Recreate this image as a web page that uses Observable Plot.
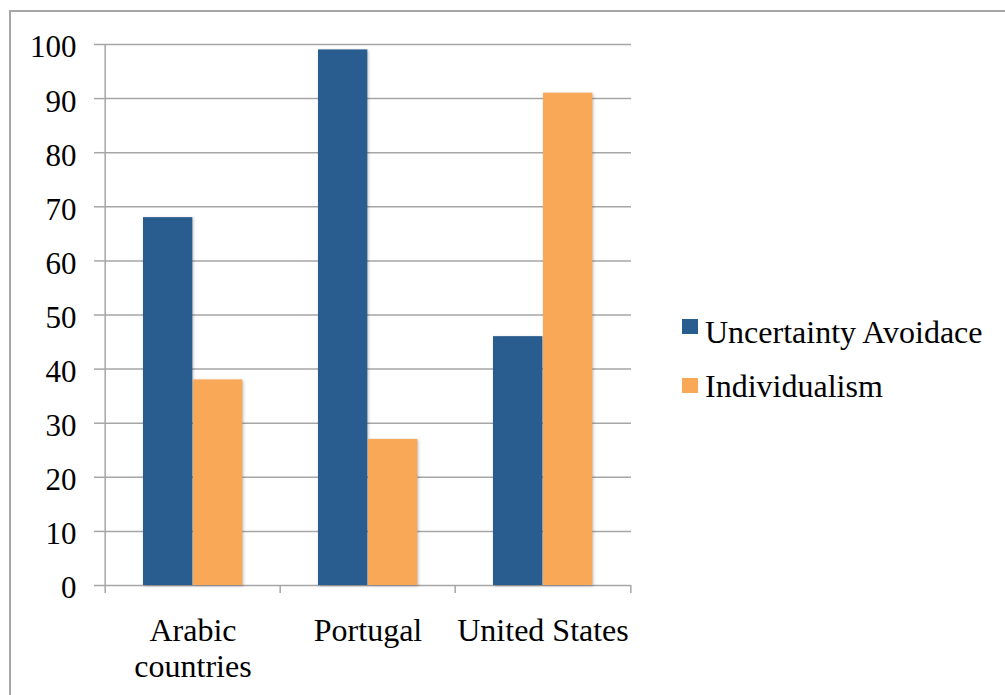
<!DOCTYPE html>
<html>
<head>
<meta charset="utf-8">
<script src="https://cdn.jsdelivr.net/npm/d3@7"></script>
<script src="https://cdn.jsdelivr.net/npm/@observablehq/plot@0.6"></script>
<style>
  html, body { margin: 0; padding: 0; background: #fff; overflow: hidden; font-family: 'Liberation Serif', serif; }
  #wrap { position: relative; width: 1005px; height: 695px; }
  #border { position: absolute; left: 9px; top: 10px; width: 1100px; height: 800px; border: 2px solid #a6a6a6; box-sizing: border-box; }
  #chart { position: absolute; left: 0; top: 0; }
  .bars rect { filter: drop-shadow(1.5px 1.5px 1.5px rgba(0,0,0,0.25)); }
  #legend { position: absolute; left: 0; top: 0; font-size: 32px; color: #000; }
  .sw { position: absolute; width: 16px; height: 15px; }
  .lab { position: absolute; line-height: 36px; white-space: nowrap; font-family: 'Liberation Serif', serif; }
</style>
</head>
<body>
<div id="wrap">
  <div id="border"></div>
  <div id="chart"></div>
  <div id="legend"></div>
</div>
<script>
const countries = ["Arabic\ncountries", "Portugal", "United States"];
const seriesNames = ["Uncertainty Avoidace", "Individualism"];
const uncertaintyAvoidance = [68, 99, 46];
const individualism = [38, 27, 91];
const yTicks = [0, 10, 20, 30, 40, 50, 60, 70, 80, 90, 100];
const colors = ["#2a5d8f", "#f9a857"];

const rows = countries.map((c, i) => ({country: c, ua: uncertaintyAvoidance[i], ind: individualism[i]}));

const W = 1005, H = 695, mL = 104, mR = 374, mT = 44, mB = 110;
const bw = (W - mL - mR) / countries.length;
const grid = "#a6a6a6";
const FONT = "Liberation Serif";

const chart = Plot.plot({
  width: W, height: H,
  marginLeft: mL, marginRight: mR, marginTop: mT, marginBottom: mB,
  x: {domain: countries, padding: 0},
  y: {domain: [0, 100]},
  style: {fontFamily: FONT, fontSize: "32px", color: "#000", background: "transparent"},
  marks: [
    Plot.gridY(yTicks, {stroke: grid, strokeOpacity: 1, strokeWidth: 1.5}),
    Plot.ruleX([countries[0]], {dx: -bw / 2, y1: 0, y2: 100, stroke: grid, strokeWidth: 1.5}),
    Plot.axisY(yTicks, {tickSize: 10, stroke: grid, strokeWidth: 1.5, strokeOpacity: 1, tickFormat: () => "", label: null}),
    Plot.axisY(yTicks, {tickSize: 0, tickPadding: 28, dy: 3, fill: "#000", fontSize: 31, fontFamily: FONT, label: null, tickFormat: d => String(d)}),
    Plot.axisX({tickSize: 8, dx: -bw / 2, stroke: grid, strokeWidth: 1.5, strokeOpacity: 1, tickFormat: () => "", label: null}),
    Plot.axisX([countries[countries.length - 1]], {tickSize: 8, dx: bw / 2, stroke: grid, strokeWidth: 1.5, strokeOpacity: 1, tickFormat: () => "", label: null}),
    Plot.axisX({tickSize: 0, tickPadding: 29, lineAnchor: "top", lineHeight: 1.15, fill: "#000", fontSize: 32, fontFamily: FONT, label: null}),
    Plot.barY(rows, {x: "country", y: "ua", fill: colors[0], insetLeft: 38, insetRight: bw - 88, className: "bars"}),
    Plot.barY(rows, {x: "country", y: "ind", fill: colors[1], insetLeft: 88, insetRight: bw - 138, className: "bars"})
  ]
});
document.getElementById("chart").appendChild(chart);

const legend = document.getElementById("legend");
const swatchTops = [319, 378];
const labelTops = [314, 368];
seriesNames.forEach((name, i) => {
  const sw = document.createElement("div");
  sw.className = "sw";
  sw.style.background = colors[i];
  sw.style.left = "682px";
  sw.style.top = swatchTops[i] + "px";
  const lab = document.createElement("div");
  lab.className = "lab";
  lab.style.left = "705px";
  lab.style.top = labelTops[i] + "px";
  lab.textContent = name;
  legend.appendChild(sw);
  legend.appendChild(lab);
});
</script>
</body>
</html>
